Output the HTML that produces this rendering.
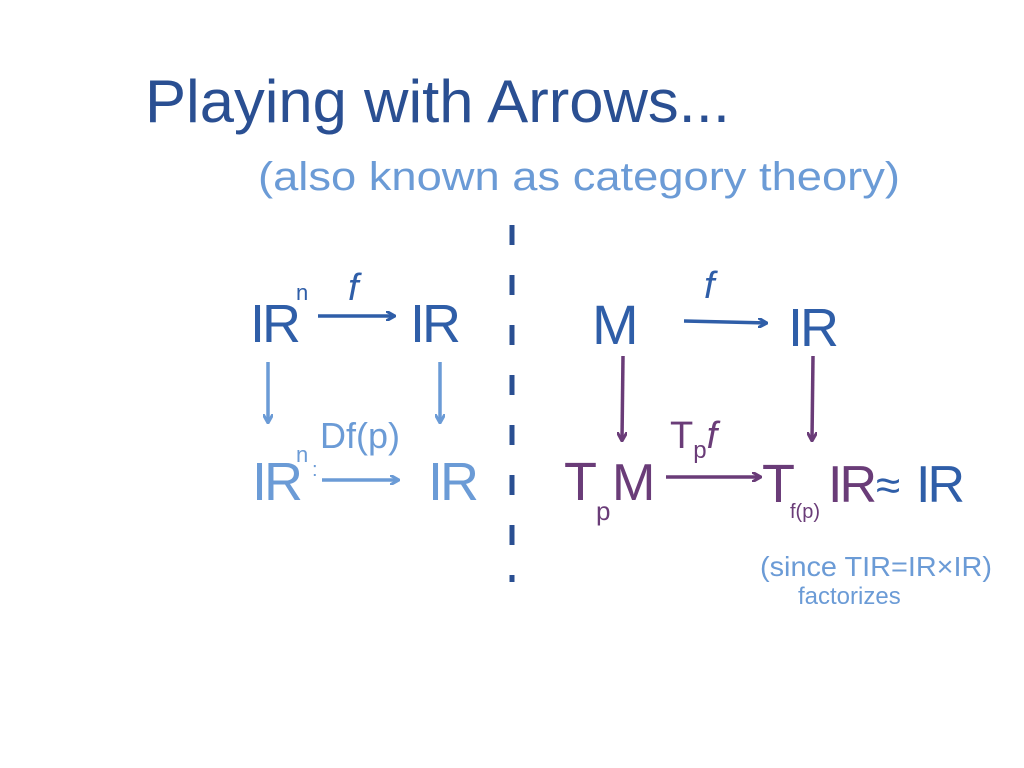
<!DOCTYPE html>
<html><head><meta charset="utf-8"><style>
html,body{margin:0;padding:0;background:#fff;width:1024px;height:768px;overflow:hidden}
text{font-family:"Liberation Sans","DejaVu Sans",sans-serif}
</style></head><body>
<svg width="1024" height="768" viewBox="0 0 1024 768" xmlns="http://www.w3.org/2000/svg">
<defs>
<marker id="ad" markerWidth="10" markerHeight="10" refX="8" refY="5" orient="auto" markerUnits="userSpaceOnUse"><path d="M0,0 L9,5 L0,10" fill="none" stroke="#2f5ea8" stroke-width="3"/></marker>
<marker id="al" markerWidth="10" markerHeight="10" refX="8" refY="5" orient="auto" markerUnits="userSpaceOnUse"><path d="M0,0 L9,5 L0,10" fill="none" stroke="#6b9bd6" stroke-width="3"/></marker>
<marker id="ap" markerWidth="10" markerHeight="10" refX="8" refY="5" orient="auto" markerUnits="userSpaceOnUse"><path d="M0,0 L9,5 L0,10" fill="none" stroke="#6a3c78" stroke-width="3"/></marker>
</defs>
<text x="145" y="122" font-size="60" fill="#2a4f92" textLength="585" lengthAdjust="spacingAndGlyphs">Playing with Arrows...</text>
<text x="258" y="190" font-size="40" fill="#6b9bd6" textLength="642" lengthAdjust="spacingAndGlyphs">(also known as category theory)</text>
<line x1="512" y1="225" x2="512" y2="582" stroke="#2a4f92" stroke-width="5" stroke-dasharray="20,30"/>
<!-- left top -->
<text x="250" y="342" font-size="54" fill="#2f5ea8" letter-spacing="-3">IR</text>
<text x="296" y="300" font-size="22" fill="#2f5ea8">n</text>
<text x="348" y="300" font-size="38" fill="#2f5ea8" font-style="italic">f</text>
<line x1="318" y1="316" x2="394" y2="316" stroke="#2f5ea8" stroke-width="3.5" marker-end="url(#ad)"/>
<text x="410" y="342" font-size="54" fill="#2f5ea8" letter-spacing="-3">IR</text>
<line x1="268" y1="362" x2="268" y2="422" stroke="#6b9bd6" stroke-width="3.5" marker-end="url(#al)"/>
<line x1="440" y1="362" x2="440" y2="422" stroke="#6b9bd6" stroke-width="3.5" marker-end="url(#al)"/>
<!-- left bottom -->
<text x="252" y="500" font-size="54" fill="#6b9bd6" letter-spacing="-3">IR</text>
<text x="296" y="462" font-size="22" fill="#6b9bd6">n</text>
<text x="320" y="448" font-size="36" fill="#6b9bd6">Df(p)</text>
<text x="312" y="476" font-size="20" fill="#6b9bd6">:</text>
<line x1="322" y1="480" x2="398" y2="480" stroke="#6b9bd6" stroke-width="3.5" marker-end="url(#al)"/>
<text x="428" y="500" font-size="54" fill="#6b9bd6" letter-spacing="-3">IR</text>
<!-- right top -->
<text x="592" y="344" font-size="56" fill="#2f5ea8">M</text>
<text x="704" y="298" font-size="38" fill="#2f5ea8" font-style="italic">f</text>
<line x1="684" y1="321" x2="766" y2="323" stroke="#2f5ea8" stroke-width="3.5" marker-end="url(#ad)"/>
<text x="788" y="346" font-size="54" fill="#2f5ea8" letter-spacing="-3">IR</text>
<line x1="623" y1="356" x2="622" y2="440" stroke="#6a3c78" stroke-width="3.5" marker-end="url(#ap)"/>
<line x1="813" y1="356" x2="812" y2="440" stroke="#6a3c78" stroke-width="3.5" marker-end="url(#ap)"/>
<!-- right bottom -->
<text x="564" y="500" font-size="54" fill="#6a3c78">T</text>
<text x="596" y="520" font-size="26" fill="#6a3c78">p</text>
<text x="612" y="500" font-size="52" fill="#6a3c78">M</text>
<text x="670" y="448" font-size="38" fill="#6a3c78">T<tspan font-size="24" dy="10">p</tspan><tspan dy="-10" font-style="italic">f</tspan></text>
<line x1="666" y1="477" x2="760" y2="477" stroke="#6a3c78" stroke-width="3.5" marker-end="url(#ap)"/>
<text x="762" y="502" font-size="54" fill="#6a3c78">T</text>
<text x="790" y="518" font-size="20" fill="#6a3c78">f(p)</text>
<text x="828" y="502" font-size="52" fill="#6a3c78" letter-spacing="-3">IR</text>
<text x="876" y="500" font-size="44" fill="#2f5ea8">≈</text>
<text x="916" y="502" font-size="52" fill="#2f5ea8" letter-spacing="-3">IR</text>
<text x="760" y="576" font-size="28" fill="#6b9bd6" textLength="232" lengthAdjust="spacingAndGlyphs">(since TIR=IR×IR)</text>
<text x="798" y="604" font-size="24" fill="#6b9bd6">factorizes</text>
</svg>
</body></html>
